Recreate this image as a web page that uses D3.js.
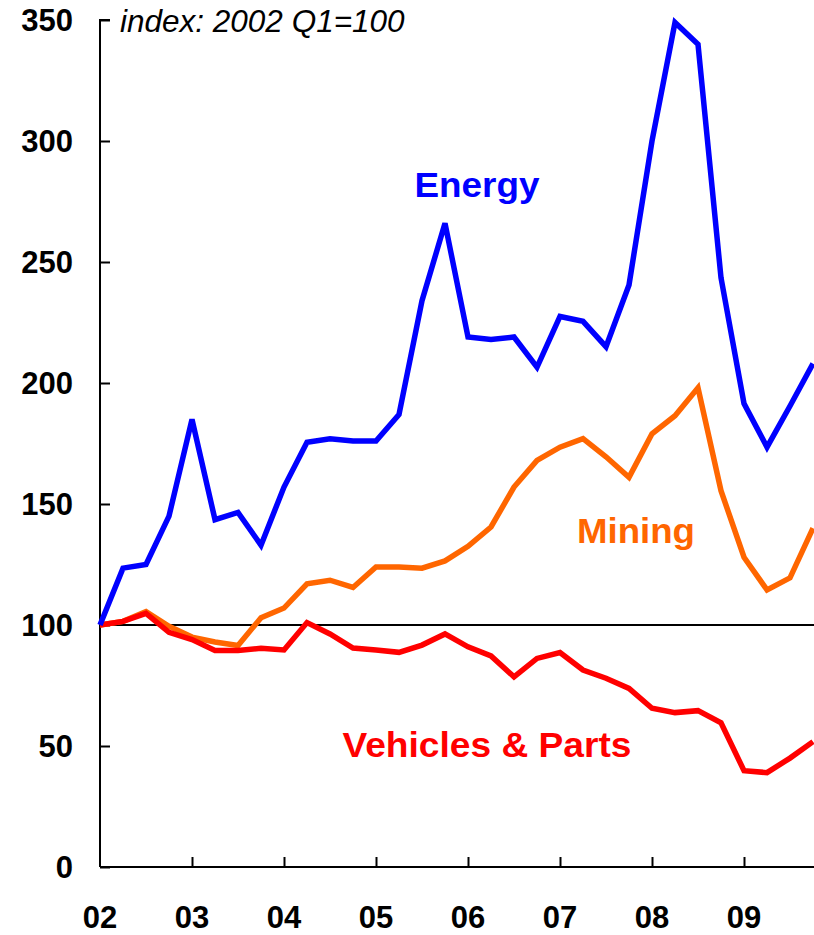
<!DOCTYPE html>
<html lang="en">
<head>
    <meta charset="UTF-8">
    <title>Energy, Mining, Vehicles & Parts index</title>
    <script src="https://d3js.org/d3.v7.min.js"></script>
    <style>
        body { margin: 0; padding: 0; background: #fff; }
        svg { display: block; }
        .axis path, .axis line { stroke: #000; stroke-width: 2; }
        .ticklab { font-family: Arial, "Liberation Sans", sans-serif; font-weight: bold; font-size: 31px; fill: #000; }
        .serie { fill: none; stroke-width: 5.5; stroke-linejoin: miter; }
        .lbl { font-family: Arial, "Liberation Sans", sans-serif; font-weight: bold; font-size: 35px; text-anchor: middle; }
    </style>
</head>
<body>
    <svg width="814" height="935"></svg>
    <script>
        // quarters 2002Q1 .. 2009Q4
        const quarters = d3.range(32).map(i => 2002 + i / 4);
        const yearLabels = ["02", "03", "04", "05", "06", "07", "08", "09"];
        const yTicks = [0, 50, 100, 150, 200, 250, 300, 350];

        const energy = [100, 123.5, 125, 145, 185, 143.5, 146.5, 133, 157, 175.5, 177, 176, 176, 187, 234, 266,
            219, 218, 219, 206.5, 227.5, 225.5, 215, 240.5, 300, 349, 340, 243.5, 191.5, 173.5, 190.5, 208];
        const mining = [100, 101.5, 105.5, 99.5, 95, 93, 91.5, 103, 107, 117, 118.5, 115.5, 124, 124, 123.5, 126.5,
            132.5, 140.5, 157, 168, 173.5, 177, 169.5, 161, 179, 186.5, 198, 155.5, 128, 114.5, 119.5, 140];
        const vehicles = [100, 101.5, 104.8, 97, 94, 89.5, 89.5, 90.4, 89.7, 101, 96.3, 90.5, 89.7, 88.7, 91.7, 96.3,
            91, 87.2, 78.6, 86.2, 88.6, 81.4, 78, 73.8, 65.6, 63.8, 64.6, 59.6, 39.8, 39, 45, 51.8];

        const series = [
            { name: "Mining", values: mining, color: "#FF6600", lx: 636, ly: 543, w: 118 },
            { name: "Vehicles & Parts", values: vehicles, color: "#FF0000", lx: 487, ly: 757, w: 289 },
            { name: "Energy", values: energy, color: "#0000FF", lx: 477, ly: 197, w: 125 }
        ];

        const svg = d3.select("svg");
        const mLeft = 100, mRight = 813, mTop = 20, mBottom = 867;

        const x = d3.scaleLinear().domain([2002, 2009.75]).range([mLeft, mRight]);
        const y = d3.scaleLinear().domain([0, 350]).range([mBottom, mTop]);

        // axe Y
        svg.append("g").attr("class", "axis")
            .attr("transform", `translate(${mLeft},0)`)
            .call(d3.axisRight(y).tickValues(yTicks).tickSize(10).tickFormat(""))
            .call(g => g.select(".domain").attr("d", `M10,${mTop}H0V${mBottom}`));

        svg.append("g").selectAll("text").data(yTicks).enter().append("text")
            .attr("class", "ticklab")
            .attr("x", 73).attr("y", d => y(d) + 11)
            .attr("text-anchor", "end")
            .text(d => d);

        // axe X
        const years = d3.range(2002, 2010);
        svg.append("g").attr("class", "axis")
            .attr("transform", `translate(0,${mBottom})`)
            .call(d3.axisTop(x).tickValues(years.slice(1)).tickSize(10).tickFormat(""))
            .call(g => g.select(".domain").attr("d", `M${mLeft},0H814`));

        svg.append("g").selectAll("text").data(years).enter().append("text")
            .attr("class", "ticklab")
            .attr("x", d => x(d)).attr("y", 928)
            .attr("text-anchor", "middle")
            .text((d, i) => yearLabels[i]);

        // ligne 100
        svg.append("line")
            .attr("x1", mLeft).attr("x2", 814)
            .attr("y1", y(100)).attr("y2", y(100))
            .attr("stroke", "#000").attr("stroke-width", 2);

        // séries
        const line = d3.line().x((d, i) => x(quarters[i])).y(d => y(d));
        svg.append("g").selectAll("path").data(series).enter().append("path")
            .attr("class", "serie")
            .attr("stroke", d => d.color)
            .attr("d", d => line(d.values));

        svg.append("g").selectAll("text").data(series).enter().append("text")
            .attr("class", "lbl")
            .attr("x", d => d.lx).attr("y", d => d.ly)
            .attr("fill", d => d.color)
            .attr("textLength", d => d.w)
            .attr("lengthAdjust", "spacingAndGlyphs")
            .text(d => d.name);

        svg.append("text")
            .attr("x", 120).attr("y", 32)
            .attr("font-family", "Arial, 'Liberation Sans', sans-serif")
            .attr("font-style", "italic")
            .attr("font-size", 31.5)
            .text("index: 2002 Q1=100");
    </script>
</body>
</html>
